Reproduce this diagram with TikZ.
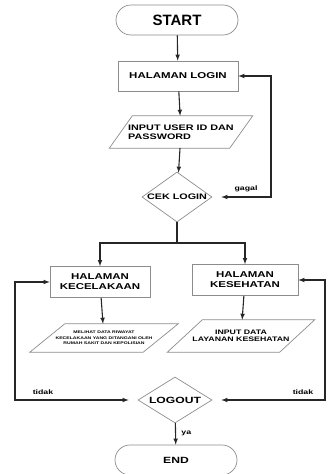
\documentclass[tikz,border=0pt]{standalone}
\usepackage{fontspec}
\setmainfont{Liberation Sans}
\newfontfamily\widefont[FakeStretch=1.35]{Liberation Sans}
\usetikzlibrary{shapes.geometric,shapes.misc}

\begin{document}
\begin{tikzpicture}[x=1pt,y=-1pt,
    term/.style={draw=black!45,line width=0.7pt,rounded rectangle,minimum width=122pt,minimum height=30pt,inner sep=0pt},
    box/.style={draw=black!45,line width=0.7pt,rectangle,minimum height=31pt,inner sep=0pt,align=center,font=\widefont\bfseries\fontsize{8.5}{10}\selectfont},
    io/.style={rectangle,inner sep=0pt,align=center},
    cek/.style={draw=black!45,line width=0.7pt,diamond,aspect=1.6,inner sep=0pt,font=\widefont\bfseries\fontsize{8}{9}\selectfont},
    arr/.style={draw=black!85,line width=1.1pt,-latex},
    line/.style={draw=black!85,line width=1.1pt},
    lbl/.style={font=\widefont\bfseries\fontsize{6.5}{7}\selectfont}]
        \newcommand{\gap}{9pt} % space left before a diamond
        \newcommand{\jajar}[2]{\draw[black!45,line width=0.7pt] ([xshift=#2]#1.north west) -- ([xshift=#2]#1.north east)
            -- ([xshift=-#2]#1.south east) -- ([xshift=-#2]#1.south west) -- cycle;}
        \useasboundingbox (0,0) rectangle (330,474);

        \node[term,font=\bfseries\fontsize{15}{16}\selectfont] (start) at (177,20) {START};
        \node[box,minimum width=120pt,minimum height=30pt] (login) at (178,76) {HALAMAN LOGIN};
        \node[io,minimum width=120pt,minimum height=32pt,
              font=\widefont\bfseries\fontsize{8}{9.5}\selectfont,align=left] (input) at (181,132) {INPUT USER ID DAN\\PASSWORD};
        \jajar{input}{11.5pt}
        \node[cek,minimum width=70pt,minimum height=50pt] (ceklogin) at (177,197) {CEK LOGIN};
        \coordinate (gagal) at (271,197);
        \coordinate (bagi) at (177,243);

        \node[box,minimum width=100pt] (kecelakaan) at (100,282) {HALAMAN\\KECELAKAAN};
        \node[box,minimum width=106pt] (kesehatan) at (245,280) {HALAMAN\\KESEHATAN};
        \node[io,minimum width=113pt,minimum height=28pt,
              font=\widefont\bfseries\fontsize{3.8}{5.5}\selectfont] (riwayat) at (104,338)
              {MELIHAT DATA RIWAYAT\\KECELAKAAN YANG DITANGANI OLEH\\RUMAH SAKIT DAN KEPOLISIAN};
        \jajar{riwayat}{17.5pt}
        \node[io,minimum width=112pt,minimum height=32pt,
              font=\widefont\bfseries\fontsize{6.5}{7.5}\selectfont] (layanan) at (241,336) {INPUT DATA\\LAYANAN KESEHATAN};
        \jajar{layanan}{17.5pt}

        \node[cek,minimum width=74pt,minimum height=46pt,font=\widefont\bfseries\fontsize{9}{10}\selectfont] (logout) at (175,400) {LOGOUT};
        \coordinate (kiri) at (15,400);
        \coordinate (kanan) at (325,400);
        \node[term,font=\widefont\bfseries\fontsize{9}{10}\selectfont] (end) at (176,460) {END};

        \draw[arr] (start) -- (login);
        \draw[arr] (login) -- (input);
        \draw[arr] (input) -- (ceklogin);
        \draw[arr,latex-latex,shorten <=\gap] (ceklogin.east) -- (gagal) |- (login.east);
        \node[lbl,anchor=south] at (246,195) {gagal};

        \draw[line] (ceklogin.south) -- (bagi);
        \draw[arr] (bagi) -| (kecelakaan.north);
        \draw[arr] (bagi) -| (kesehatan.north);
        \draw[arr] (kecelakaan) -- (riwayat);
        \draw[arr] (kesehatan) -- (layanan);

        \draw[arr,latex-latex,shorten <=\gap] (logout.west) -- (kiri) |- (kecelakaan.west);
        \draw[arr,latex-latex,shorten <=\gap] (logout.east) -- (kanan) |- (kesehatan.east);
        \node[lbl,anchor=south] at (43,398) {tidak};
        \node[lbl,anchor=south] at (303,398) {tidak};
        \draw[arr] (logout) -- node[lbl,right=2pt] {ya} (end);
    \end{tikzpicture}
\end{document}
